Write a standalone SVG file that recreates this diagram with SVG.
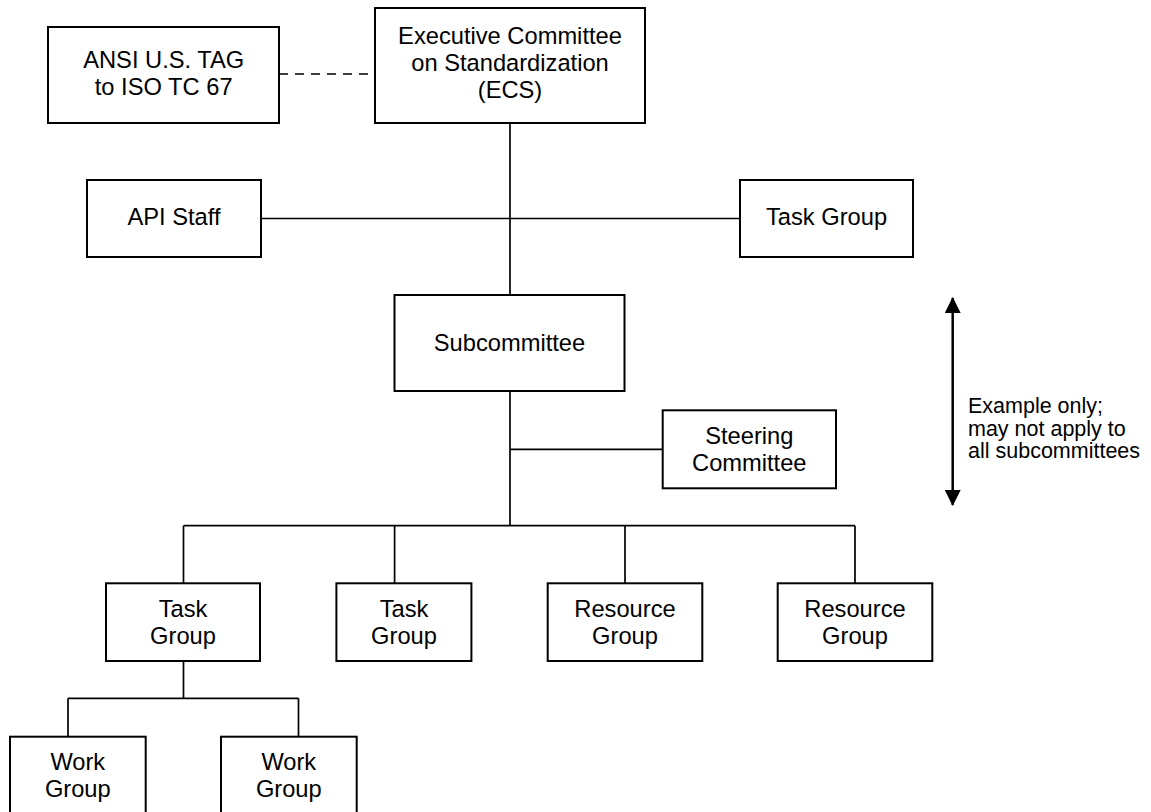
<svg xmlns="http://www.w3.org/2000/svg" width="1151" height="812" viewBox="0 0 1151 812">
<style>
.box{fill:#fff;stroke:#000;stroke-width:2}
.t{font-family:"Liberation Sans",Arial,sans-serif;font-size:23.7px;fill:#000;text-anchor:middle}
.note{font-family:"Liberation Sans",Arial,sans-serif;font-size:21.5px;fill:#000}
.ln{fill:none;stroke:#000;stroke-width:1.7}
</style>
<defs>
<marker id="ah" viewBox="0 0 16 16" refX="15" refY="8" markerWidth="16" markerHeight="16" markerUnits="userSpaceOnUse" orient="auto-start-reverse">
<path d="M0,0 L16,8 L0,16 Z" fill="#000"/>
</marker>
</defs>
<rect width="1151" height="812" fill="#fff"/>
<g id="connectors">
<path class="ln" d="M279 74 H375" stroke-dasharray="9 7"/>
<path class="ln" d="M510 123 V295"/>
<path class="ln" d="M261 218.5 H740"/>
<path class="ln" d="M510 391 V525.7"/>
<path class="ln" d="M510 449.3 H662.7"/>
<path class="ln" d="M183.5 525.7 H855"/>
<path class="ln" d="M183.5 525.7 V583.3 M394.6 525.7 V583.3 M625 525.7 V583.3 M855 525.7 V583.3"/>
<path class="ln" d="M183.5 661 V698.3 M68 698.3 H298.5 M68 698.3 V736.7 M298.5 698.3 V736.7"/>
<path d="M952.7 298 V505" fill="none" stroke="#000" stroke-width="2.5" marker-start="url(#ah)" marker-end="url(#ah)"/>
</g>
<g id="ansi">
<rect class="box" x="48" y="27" width="231" height="96"/>
<text class="t" x="163.7" y="68.3">ANSI U.S. TAG</text>
<text class="t" x="163.7" y="95.3">to ISO TC 67</text>
</g>
<g id="ecs">
<rect class="box" x="375" y="8" width="270" height="115"/>
<text class="t" x="510" y="44">Executive Committee</text>
<text class="t" x="510" y="71">on Standardization</text>
<text class="t" x="510" y="98">(ECS)</text>
</g>
<g id="api-staff">
<rect class="box" x="87" y="180" width="174" height="77"/>
<text class="t" x="174" y="224.5">API Staff</text>
</g>
<g id="task-group-top">
<rect class="box" x="740" y="180" width="173" height="77"/>
<text class="t" x="826.5" y="224.5">Task Group</text>
</g>
<g id="subcommittee">
<rect class="box" x="394.5" y="295" width="230" height="96"/>
<text class="t" x="509.5" y="350.5">Subcommittee</text>
</g>
<g id="steering">
<rect class="box" x="662.7" y="410.3" width="173.3" height="78"/>
<text class="t" x="749.3" y="444">Steering</text>
<text class="t" x="749.3" y="471">Committee</text>
</g>
<g id="task-group-1">
<rect class="box" x="106" y="583.3" width="154" height="77.7"/>
<text class="t" x="183" y="617.3">Task</text>
<text class="t" x="183" y="644.3">Group</text>
</g>
<g id="task-group-2">
<rect class="box" x="336.4" y="583.3" width="135" height="77.7"/>
<text class="t" x="404" y="617.3">Task</text>
<text class="t" x="404" y="644.3">Group</text>
</g>
<g id="resource-group-1">
<rect class="box" x="547.7" y="583.3" width="154.6" height="77.7"/>
<text class="t" x="625" y="617.3">Resource</text>
<text class="t" x="625" y="644.3">Group</text>
</g>
<g id="resource-group-2">
<rect class="box" x="777.7" y="583.3" width="154.6" height="77.7"/>
<text class="t" x="855" y="617.3">Resource</text>
<text class="t" x="855" y="644.3">Group</text>
</g>
<g id="work-group-1">
<rect class="box" x="10" y="736.7" width="135.7" height="78"/>
<text class="t" x="77.8" y="770">Work</text>
<text class="t" x="77.8" y="797">Group</text>
</g>
<g id="work-group-2">
<rect class="box" x="221" y="736.7" width="135.7" height="78"/>
<text class="t" x="288.8" y="770">Work</text>
<text class="t" x="288.8" y="797">Group</text>
</g>
<g id="note">
<text class="note" x="968" y="413">Example only;</text>
<text class="note" x="968" y="435.5">may not apply to</text>
<text class="note" x="968" y="458">all subcommittees</text>
</g>
</svg>
